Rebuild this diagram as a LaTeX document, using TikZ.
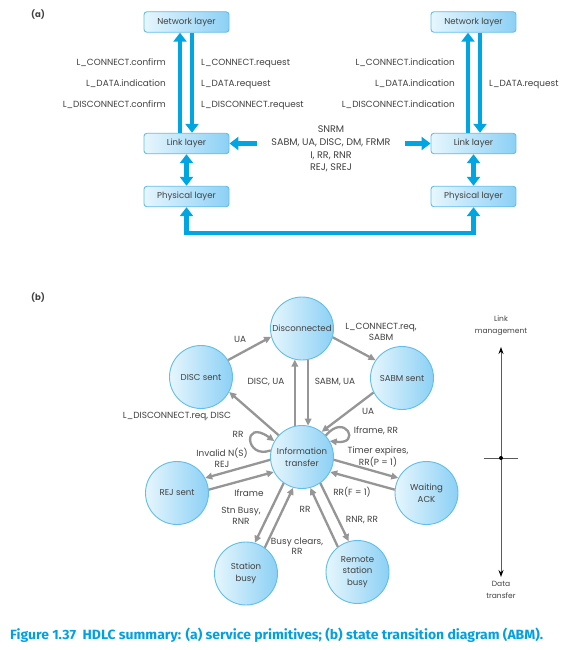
\documentclass[tikz,border=0pt]{standalone}
\usepackage{graphicx}
\usepackage{fontspec}
\setmainfont{Poppins}
\newfontfamily\capfont{Fira Sans}
\usetikzlibrary{arrows.meta}
\definecolor{lineblue}{RGB}{0,166,228}
\definecolor{boxborder}{RGB}{95,190,235}
\definecolor{boxlight}{RGB}{230,246,253}
\definecolor{boxdark}{RGB}{140,208,245}
\definecolor{txt}{RGB}{65,65,65}
\definecolor{arrgray}{RGB}{150,150,150}
\definecolor{capblue}{RGB}{0,160,228}
\definecolor{axisgray}{RGB}{90,90,90}
\begin{document}
\begin{tikzpicture}[x=1pt,y=-1pt,
  font=\fontsize{8.9}{10.5}\selectfont, text=txt,
  layerbox/.style={draw=boxborder, line width=0.9pt, rounded corners=3pt, left color=boxlight, right color=boxdark, minimum width=85pt, minimum height=20.5pt, inner sep=0pt, font=\fontsize{8.6}{10}\selectfont},
  state/.style={circle, draw=boxborder, line width=0.9pt, left color=boxlight, right color=boxdark, minimum size=63pt, inner sep=0pt, align=center, font=\fontsize{8.6}{11.5}\selectfont},
  barrow/.style={draw=lineblue, line width=4.5pt, -{Triangle[length=9pt,width=13pt]}},
  bdouble/.style={draw=lineblue, line width=4.5pt, {Triangle[length=9pt,width=13pt]}-{Triangle[length=9pt,width=13pt]}},
  garrow/.style={draw=arrgray, line width=2.3pt, -{Triangle[length=7pt,width=6.5pt]}},
  lbl/.style={inner sep=0pt, align=center},
  lblr/.style={inner sep=0pt, anchor=base east},
  lbll/.style={inner sep=0pt, anchor=base west},
  axisline/.style={draw=axisgray, line width=1pt},
]
\fill[white] (0,0) rectangle (564,650);
\useasboundingbox (0,0) rectangle (564,650);

% ---------- (a) ----------
\node[inner sep=0pt, font=\fontsize{8.5}{9}\selectfont\bfseries] (la) at (38,15) {(a)};

\node[layerbox] (LN) at (186.5,22) {Network layer};
\node[layerbox] (LL) at (186.5,143.5) {Link layer};
\node[layerbox] (LP) at (186.5,196.5) {Physical layer};
\node[layerbox] (RN) at (473.5,22) {Network layer};
\node[layerbox] (RL) at (473.5,143.5) {Link layer};
\node[layerbox] (RP) at (473.5,196.5) {Physical layer};

\draw[barrow] ([xshift=-6.5pt]LL.north) -- ([xshift=-6.5pt]LN.south);
\draw[barrow] ([xshift=5.5pt]LN.south) -- ([xshift=5.5pt]LL.north);
\draw[barrow] ([xshift=-5.5pt]RL.north) -- ([xshift=-5.5pt]RN.south);
\draw[barrow] ([xshift=6.5pt]RN.south) -- ([xshift=6.5pt]RL.north);
\draw[bdouble] (LL.south) -- (LP.north);
\draw[bdouble] (RL.south) -- (RP.north);
\draw[bdouble] (LP.south) -- ++(0,26) -| (RP.south);

\coordinate (ml) at (257,143.5);
\coordinate (mr) at (405,143.5);
\draw[barrow] (ml) -- (LL.east);
\draw[barrow] (mr) -- (RL.west);
\node[lbl, font=\fontsize{9.6}{12.7}\selectfont] (mid) at (331,149) {SNRM\\SABM, UA, DISC, DM, FRMR\\I, RR, RNR\\REJ, SREJ};

\node[lblr] (a1) at (166,66) {L\_CONNECT.confirm};
\node[lblr] (a2) at (166,87) {L\_DATA.indication};
\node[lblr] (a3) at (166,108) {L\_DISCONNECT.confirm};
\node[lbll] (a4) at (201,66) {L\_CONNECT.request};
\node[lbll] (a5) at (201,87) {L\_DATA.request};
\node[lbll] (a6) at (201,108) {L\_DISCONNECT.request};
\node[lblr] (a7) at (455,66) {L\_CONNECT.indication};
\node[lblr] (a8) at (455,87) {L\_DATA.indication};
\node[lblr] (a9) at (455,108) {L\_DISCONNECT.indication};
\node[lbll] (a10) at (489,87) {L\_DATA.request};

% ---------- (b) ----------
\node[inner sep=0pt, font=\fontsize{8.5}{9}\selectfont\bfseries] (lb) at (38,298) {(b)};

\node[state] (DC) at (302,328.5) {Disconnected};
\node[state] (DS) at (201,377) {DISC sent};
\node[state] (SS) at (402,378) {SABM sent};
\node[state] (IT) at (302,457) {Information\\transfer};
\node[state] (RJ) at (177,493) {REJ sent};
\node[state] (WA) at (426.5,493) {Waiting\\ACK};
\node[state] (SB) at (246,573.5) {Station\\busy};
\node[state] (RS) at (357.5,572) {Remote\\station\\busy};

\draw[garrow] (DS.32) -- (DC.195);
\draw[garrow] (DC.-16) -- (SS.146);
\draw[garrow] (IT.103) -- (DC.257);
\draw[garrow] (DC.281) -- (IT.79);
\draw[garrow] (IT.137) -- (DS.-28);
\draw[garrow] (SS.207) -- (IT.52);
\draw[garrow] (IT.168) .. controls (245,460) and (242,418) .. (IT.150);
\draw[garrow] (IT.42) .. controls (345,412) and (362,445) .. (IT.30);
\draw[garrow] (IT.185) -- (RJ.28);
\draw[garrow] (RJ.6) -- (IT.208);
\draw[garrow] (IT.235) -- (SB.74);
\draw[garrow] (SB.54) -- (IT.254);
\draw[garrow] (RS.128) -- (IT.285);
\draw[garrow] (IT.305) -- (RS.106);
\draw[garrow] (IT.-5) -- (WA.152);
\draw[garrow] (WA.174) -- (IT.-28);

\node[lbl] (t1) at (240,339) {UA};
\node[lbl] (t2) at (381,332) {L\_CONNECT.req,\\SABM};
\node[lbl] (t3) at (266,382) {DISC, UA};
\node[lbl] (t4) at (335,382) {SABM, UA};
\node[lbl] (t5) at (177,417) {L\_DISCONNECT.req, DISC};
\node[lbl] (t6) at (238,434) {RR};
\node[lbl] (t7) at (368,411) {UA};
\node[lbl] (t8) at (376,431) {Iframe, RR};
\node[lbl] (t9) at (378,457) {Timer expires,\\RR(P = 1)};
\node[lbl] (t10) at (222,458) {Invalid N(S)\\REJ};
\node[lbl] (t11) at (249,493) {Iframe};
\node[lbl] (t12) at (241,516) {Stn Busy,\\RNR};
\node[lbl] (t13) at (297,546) {Busy clears,\\RR};
\node[lbl] (t14) at (305,509) {RR};
\node[lbl] (t15) at (352,492) {RR(F = 1)};
\node[lbl] (t16) at (362,520) {RNR, RR};

% axis
\coordinate (axtop) at (501,347);
\coordinate (axbot) at (501,577);
\coordinate (axmid) at (501,458);
\coordinate (tl) at (484,458);
\coordinate (tr) at (518,458);
\draw[axisline, {Stealth[length=7pt,width=5pt,color=black]}-{Stealth[length=7pt,width=5pt,color=black]}] (axtop) -- (axbot);
\draw[axisline] (tl) -- (tr);
\fill[black] (axmid) circle (2pt);
\node[lbl, font=\fontsize{7.5}{12}\selectfont] (lm) at (501,326) {Link\\management};
\node[lbl, font=\fontsize{7.5}{12}\selectfont] (dt) at (501,590) {Data\\transfer};

% caption
\node[anchor=base west, inner sep=0pt, text=capblue] (cap) at (10,639) {\resizebox{533pt}{11.5pt}{\capfont\bfseries Figure 1.37\ \ HDLC summary: (a) service primitives; (b) state transition diagram (ABM).}};
\end{tikzpicture}
\end{document}
